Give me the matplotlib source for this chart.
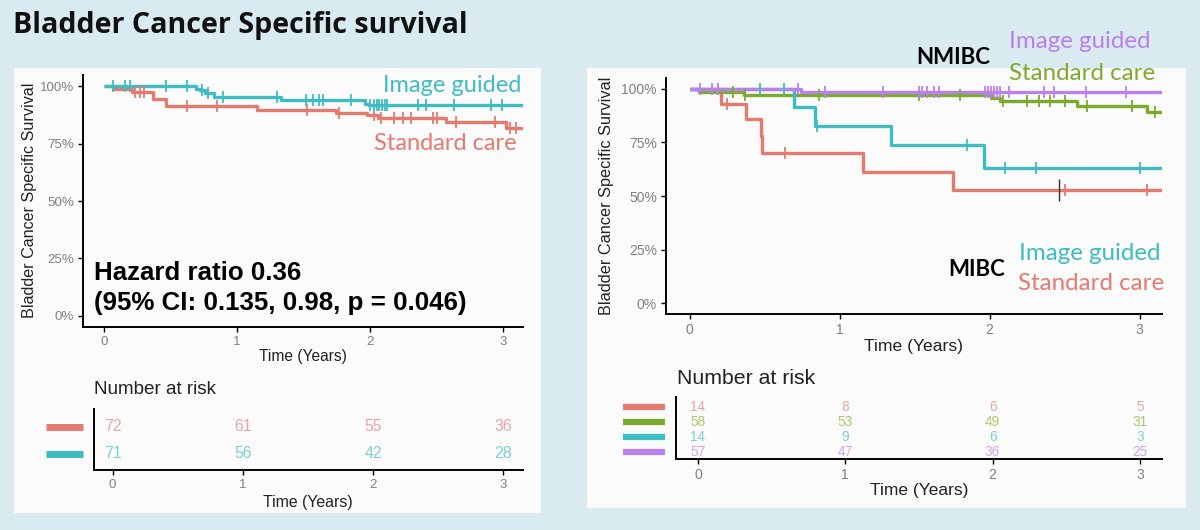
import numpy as np
import matplotlib
matplotlib.use("Agg")
import matplotlib.pyplot as plt
from matplotlib.patches import Rectangle

# ---------------- data ----------------
title = "Bladder Cancer Specific survival"
ylabel = "Bladder Cancer Specific Survival"
xlabel = "Time (Years)"
y_ticks = [0, 0.25, 0.5, 0.75, 1.0]
y_ticklabels = ["0%", "25%", "50%", "75%", "100%"]
x_ticks = [0, 1, 2, 3]
t_max = 3.15

# Left panel: all patients
all_ig_t = [0, 0.695, 0.72, 0.76, 0.83, 1.333, 1.96, 1.99]
all_ig_s = [1.0, 0.99, 0.983, 0.972, 0.952, 0.939, 0.925, 0.918]
all_ig_cens = [0.07, 0.16, 0.195, 0.47, 0.625, 0.74, 0.78, 0.895, 1.30, 1.52, 1.57,
               1.62, 1.65, 1.86, 2.0, 2.03, 2.05, 2.07, 2.09, 2.11, 2.13, 2.36,
               2.42, 2.63, 2.91, 2.99]
all_sc_t = [0, 0.07, 0.21, 0.37, 0.47, 1.153, 1.745, 1.98, 2.06, 2.57, 3.02]
all_sc_s = [1.0, 0.987, 0.975, 0.947, 0.913, 0.899, 0.886, 0.877, 0.863, 0.845, 0.82]
all_sc_cens = [0.23, 0.27, 0.30, 0.625, 0.85, 1.53, 1.77, 2.03, 2.08, 2.18, 2.25,
               2.31, 2.47, 2.50, 2.65, 2.94, 3.05, 3.10]
risk_left_labels = ["Standard care", "Image guided"]
risk_left = {"Standard care": [72, 61, 55, 36], "Image guided": [71, 56, 42, 28]}
hr_line1 = "Hazard ratio 0.36"
hr_line2 = "(95% CI: 0.135, 0.98, p = 0.046)"

# Right panel: NMIBC / MIBC
mibc_sc_t = [0, 0.21, 0.378, 0.473, 0.485, 1.158, 1.755]
mibc_sc_s = [1.0, 0.929, 0.857, 0.779, 0.701, 0.613, 0.527]
mibc_sc_cens = [0.25, 0.633, 2.50, 3.05]
mibc_sc_mark = [2.46]
nmibc_sc_t = [0, 0.06, 0.36, 2.01, 2.07, 2.585, 3.05]
nmibc_sc_s = [1.0, 0.987, 0.972, 0.957, 0.941, 0.921, 0.89]
nmibc_sc_cens = [0.29, 0.37, 0.86, 1.53, 1.80, 2.09, 2.25, 2.33, 2.40, 2.50, 2.65, 2.95, 3.10]
mibc_ig_t = [0, 0.695, 0.833, 1.34, 1.96]
mibc_ig_s = [1.0, 0.917, 0.828, 0.736, 0.631]
mibc_ig_cens = [0.47, 0.63, 0.85, 1.85, 2.10, 2.31, 3.00]
nmibc_ig_t = [0, 0.74]
nmibc_ig_s = [1.0, 0.983]
nmibc_ig_cens = [0.07, 0.15, 0.19, 0.72, 0.90, 1.29, 1.53, 1.55, 1.58, 1.63, 1.66, 1.97,
                 1.99, 2.01, 2.03, 2.05, 2.07, 2.13, 2.36, 2.43, 2.64, 2.91]
risk_right_labels = ["MIBC Standard care", "NMIBC Standard care", "MIBC Image guided", "NMIBC Image guided"]
risk_right = {"MIBC Standard care": [14, 8, 6, 5], "NMIBC Standard care": [58, 53, 49, 31],
              "MIBC Image guided": [14, 9, 6, 3], "NMIBC Image guided": [57, 47, 36, 25]}

# ---------------- style ----------------
RED = "#E47A70"
TEAL = "#3DBDC2"
GREEN = "#7DAA2C"
PURPLE = "#BA80EE"
RED_L = "#EBA59F"
TEAL_L = "#7FCFD3"
GREEN_L = "#A9C86E"
PURPLE_L = "#CFA6F2"
BG = "#D9EBF1"
PANEL = "#FBFBFB"
SANS = ["Liberation Sans", "DejaVu Sans"]
HUM = ["Lato", "DejaVu Sans"]
TITLEF = ["Open Sans", "DejaVu Sans"]

W, H = 1200, 530
fig = plt.figure(figsize=(12, 5.3), dpi=100, facecolor=BG)


def fx(px):
    return px / W


def fy(py):
    return 1 - py / H


def box(x0, y0, x1, y1):
    return [fx(x0), fy(y1), fx(x1) - fx(x0), fy(y0) - fy(y1)]


fig.patches.append(Rectangle((fx(14), fy(513)), fx(541) - fx(14), fy(68) - fy(513),
                             transform=fig.transFigure, facecolor=PANEL, edgecolor="none", zorder=-5))
fig.patches.append(Rectangle((fx(587), fy(508)), fx(1186) - fx(587), fy(68) - fy(508),
                             transform=fig.transFigure, facecolor=PANEL, edgecolor="none", zorder=-5))

fig.text(fx(13), fy(26), title, fontsize=20.6, fontweight="bold", family=TITLEF,
         ha="left", va="center", color="#111111")


def style_axes(ax, labelsize, lw=1.4):
    ax.set_facecolor("none")
    for s in ["top", "right"]:
        ax.spines[s].set_visible(False)
    for s in ["left", "bottom"]:
        ax.spines[s].set_linewidth(lw)
        ax.spines[s].set_color("black")
    ax.tick_params(axis="both", direction="out", length=3.5, width=1.0, color="black",
                   labelcolor="#808080", labelsize=labelsize, pad=3)
    for lab in ax.get_xticklabels() + ax.get_yticklabels():
        lab.set_family(SANS)


def km(ax, t, s, cens, color, lw=2.4):
    tt = list(t) + [t_max]
    ss = list(s) + [s[-1]]
    ax.step(tt, ss, where="post", color=color, lw=lw, solid_capstyle="butt", zorder=3)
    idx = np.searchsorted(np.array(t), np.array(cens), side="right") - 1
    ax.plot(cens, np.array(s)[idx], ls="none", marker="|", ms=8, mew=1.3, color=color, zorder=4)


def km_axes(ax, labelsize):
    ax.set_xlim(-0.1575, t_max)
    ax.set_ylim(-0.05, 1.05)
    ax.set_yticks(y_ticks)
    ax.set_yticklabels(y_ticklabels)
    ax.set_xticks(x_ticks)
    ax.set_xticklabels([str(v) for v in x_ticks])
    style_axes(ax, labelsize)


# ---- left main plot ----
axL = fig.add_axes(box(83, 75, 523, 327))
km(axL, all_sc_t, all_sc_s, all_sc_cens, RED)
km(axL, all_ig_t, all_ig_s, all_ig_cens, TEAL)
km_axes(axL, 9.6)
fig.text(fx(30), fy(200), ylabel, rotation=90, fontsize=11.6, family=SANS,
         ha="center", va="center", color="#222222")
fig.text(fx(303), fy(357), xlabel, fontsize=11.2, family=SANS, ha="center", va="center", color="#222222")
fig.text(fx(521), fy(85), "Image guided", fontsize=17, family=HUM, color=TEAL, ha="right", va="center")
fig.text(fx(517), fy(143), "Standard care", fontsize=17, family=HUM, color=RED, ha="right", va="center")
fig.text(fx(94), fy(273), hr_line1, fontsize=18.6, fontweight="bold", family=SANS, ha="left", va="center", color="black")
fig.text(fx(94), fy(303), hr_line2, fontsize=18.6, fontweight="bold", family=SANS, ha="left", va="center", color="black")

# ---- left risk table ----
axRL = fig.add_axes(box(94, 409, 523, 470))
rowsL = [2, 1]
colsL = [(RED, RED_L), (TEAL, TEAL_L)]
for lab, yv, (c, cl) in zip(risk_left_labels, rowsL, colsL):
    for xv, n in zip(x_ticks, risk_left[lab]):
        axRL.text(xv, yv, str(n), color=cl, fontsize=11.4, family=SANS, ha="center", va="center")
    axRL.plot([-0.112, -0.026], [yv, yv], transform=axRL.get_yaxis_transform(), color=c,
              lw=5, clip_on=False, solid_capstyle="butt")
axRL.set_xlim(-0.142, t_max)
axRL.set_ylim(0.407, 2.666)
axRL.set_xticks(x_ticks)
axRL.set_yticks([])
style_axes(axRL, 9.6)
fig.text(fx(94), fy(390), "Number at risk", fontsize=13.6, family=SANS, ha="left", va="center", color="#222222")
fig.text(fx(308), fy(502), xlabel, fontsize=11.4, family=SANS, ha="center", va="center", color="#222222")

# ---- right main plot ----
axR = fig.add_axes(box(666, 78, 1162, 314))
km(axR, mibc_sc_t, mibc_sc_s, mibc_sc_cens, RED)
km(axR, nmibc_sc_t, nmibc_sc_s, nmibc_sc_cens, GREEN)
km(axR, mibc_ig_t, mibc_ig_s, mibc_ig_cens, TEAL)
km(axR, nmibc_ig_t, nmibc_ig_s, nmibc_ig_cens, PURPLE)
idx = np.searchsorted(np.array(mibc_sc_t), np.array(mibc_sc_mark), side="right") - 1
axR.plot(mibc_sc_mark, np.array(mibc_sc_s)[idx], ls="none", marker="|", ms=16, mew=1.0,
         color="#333333", zorder=5)
km_axes(axR, 10)
fig.text(fx(606), fy(196), ylabel, rotation=90, fontsize=11.7, family=SANS,
         ha="center", va="center", color="#222222")
fig.text(fx(914), fy(346), xlabel, fontsize=12.6, family=SANS, ha="center", va="center", color="#222222")
fig.text(fx(916), fy(58), "NMIBC", fontsize=16, fontweight="bold", family=HUM, ha="left", va="center", color="black")
fig.text(fx(1009), fy(42), "Image guided", fontsize=17.4, family=HUM, color=PURPLE, ha="left", va="center")
fig.text(fx(1009), fy(73), "Standard care", fontsize=17.4, family=HUM, color=GREEN, ha="left", va="center")
fig.text(fx(948), fy(269), "MIBC", fontsize=16, fontweight="bold", family=HUM, ha="left", va="center", color="black")
fig.text(fx(1019), fy(253), "Image guided", fontsize=17.4, family=HUM, color=TEAL, ha="left", va="center")
fig.text(fx(1018), fy(283), "Standard care", fontsize=17.4, family=HUM, color=RED, ha="left", va="center")

# ---- right risk table ----
axRR = fig.add_axes(box(676, 397, 1162, 459))
rowsR = [4, 3, 2, 1]
colsR = [(RED, RED_L), (GREEN, GREEN_L), (TEAL, TEAL_L), (PURPLE, PURPLE_L)]
for lab, yv, (c, cl) in zip(risk_right_labels, rowsR, colsR):
    for xv, n in zip(x_ticks, risk_right[lab]):
        axRR.text(xv, yv, str(n), color=cl, fontsize=9.8, family=SANS, ha="center", va="center")
    axRR.plot([-0.109, -0.023], [yv, yv], transform=axRR.get_yaxis_transform(), color=c,
              lw=4.5, clip_on=False, solid_capstyle="butt")
axRR.set_xlim(-0.149, t_max)
axRR.set_ylim(0.533, 4.667)
axRR.set_xticks(x_ticks)
axRR.set_yticks([])
style_axes(axRR, 10)
fig.text(fx(677), fy(378), "Number at risk", fontsize=15.3, family=SANS, ha="left", va="center", color="#222222")
fig.text(fx(919), fy(491), xlabel, fontsize=12.5, family=SANS, ha="center", va="center", color="#222222")

fig.savefig("out.png", dpi=100, facecolor=BG)
